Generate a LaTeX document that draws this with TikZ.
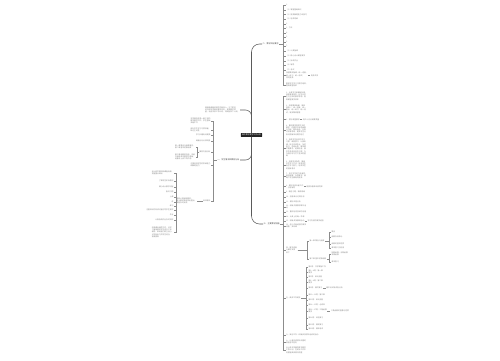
\documentclass[tikz,border=0pt]{standalone}
\usepackage{fontspec}
\newfontfamily\cjk{Noto Sans CJK SC}
\usetikzlibrary{positioning}
\definecolor{mapdark}{RGB}{35,35,35}
\definecolor{mapline}{RGB}{90,90,90}
\definecolor{maptwig}{RGB}{140,140,140}
\definecolor{maptext}{RGB}{130,130,130}
\tikzset{
  root/.style={rectangle, fill=mapdark, text=white, font=\cjk\fontsize{1.9}{2.3}\selectfont,
    inner xsep=1.2pt, inner ysep=0.9pt, rounded corners=0.4pt},
  branch/.style={font=\cjk\fontsize{2}{2.5}\selectfont, text=black!75, inner sep=0.4pt, align=left},
  rleaf/.style={font=\cjk\fontsize{1.8}{2.3}\selectfont, text=maptext, inner sep=0.4pt,
    anchor=west, align=left},
  lleaf/.style={font=\cjk\fontsize{1.8}{2.3}\selectfont, text=maptext, inner sep=0.4pt,
    anchor=east, align=left},
  trunk/.style={draw=mapline, line width=0.55pt},
  twig/.style={draw=maptwig, line width=0.3pt}
}
\begin{document}
\begin{tikzpicture}[x=1pt, y=-1pt]
  \useasboundingbox (0,0) rectangle (500,360);
  % centre and main branches
  \node[root] (root) at (251.5,135) {高中数学教学工作计划};
  \node[branch, anchor=west] (top) at (262,44) {二、教学目标要求};
  \node[branch, anchor=west] (low) at (263,224) {三、主要教学措施};
  \node[lleaf] (l1) at (240,110) {随着新课程改革的不断深入，为了更好\\地完成本学期的教学任务，提高教学质\\量，结合学校工作计划，特制定如下计划。};
  \node[branch, anchor=east] (l2) at (240,160) {一、学生情况和教材分析};
  \draw[trunk, rounded corners=8pt] (root.north) |- (top.west);
  \draw[trunk, rounded corners=8pt] (root.south) |- (low.west);
  \draw[trunk, rounded corners=6pt] (root.north) |- (l1.east);
  \draw[trunk, rounded corners=6pt] (root.south) |- (l2.east);

  % left: students and textbook
  \coordinate (lb) at (213,160);
  \node[lleaf] (a1) at (211,121) {本学期担任高一两个班的\\数学教学工作，学生基础\\参差不齐};
  \node[lleaf] (a2) at (211,130) {部分学生学习习惯较差，\\缺乏主动性};
  \node[lleaf] (a3) at (211,135) {学习兴趣有待提高};
  \node[lleaf] (a4) at (211,141) {两极分化比较明显};
  \node[lleaf] (a5) at (211,152) {教材内容分析};
  \node[lleaf] (a6) at (211,165) {注重培养学生的思维能力\\和解题能力};
  \node[lleaf] (a7) at (211,201) {具体做法};
  \foreach \i in {1,...,7} \draw[twig] (l2.west) -- (lb) |- (a\i.east);
  \coordinate (eb) at (197.5,152);
  \node[lleaf] (e1) at (195.5,147) {第一章集合与函数概念，\\第二章基本初等函数};
  \node[lleaf] (e2) at (195.5,157) {第三章函数的应用，本册\\内容是高中数学的基础，\\起着承上启下的作用};
  \foreach \i in {1,2} \draw[twig] (a5.west) -- (eb) |- (e\i.east);
  \node[lleaf] (h) at (197,201) {课前认真钻研教材，\\课上精讲多练突出重点，\\课后及时反馈};
  \draw[twig] (a7.west) -- (h.east);
  \coordinate (hb) at (176,201);
  \node[lleaf] (h1) at (174,173) {深入研究教材和课程标准，\\把握重点难点};
  \node[lleaf] (h2) at (174,181) {了解学生实际情况};
  \node[lleaf] (h3) at (174,187) {精心设计教学过程};
  \node[lleaf] (h4) at (174,192) {备好习题};
  \node[lleaf] (h5) at (174,197) {上课};
  \node[lleaf] (h6) at (174,202) {讲};
  \node[lleaf] (h7) at (174,206) {练习};
  \node[lleaf] (h8) at (174,210) {注重知识的形成过程引导学生探究};
  \node[lleaf] (h9) at (174,215) {作业};
  \node[lleaf] (h10) at (174,220) {认真批改作业及时讲评};
  \node[lleaf] (h11) at (174,232) {加强课后辅导工作，对学\\习有困难的学生进行个别\\辅导，帮助他们树立信心，\\对学有余力的学生适当\\拓展提高};
  \foreach \i in {1,...,11} \draw[twig] (h.west) -- (hb) |- (h\i.east);

  % right top: aims
  \coordinate (tb) at (283,44);
  \node[rleaf] (t1) at (285.5,5) {1．};
  \node[rleaf] (t2) at (285.5,10) {（1）掌握基础知识};
  \node[rleaf] (t3) at (285.5,14.5) {（2）提高解题能力和技巧};
  \node[rleaf] (t4) at (285.5,19) {（3）培养思维};
  \node[rleaf] (t5) at (285.5,24) {2．};
  \node[rleaf] (t6) at (285.5,28) {3．方法};
  \node[rleaf] (t7) at (285.5,33) {4．};
  \node[rleaf] (t8) at (285.5,37) {5．};
  \node[rleaf] (t9) at (285.5,42) {6．};
  \node[rleaf] (t10) at (285.5,46) {7．};
  \node[rleaf] (t11) at (285.5,51) {（1）认真备课};
  \node[rleaf] (t12) at (285.5,56) {（2）精心设计课堂教学};
  \node[rleaf] (t13) at (285.5,61) {（3）批改作业};
  \node[rleaf] (t14) at (285.5,65) {（4）辅导};
  \node[rleaf] (t15) at (285.5,70) {（5）考试};
  \node[rleaf] (t16) at (285.5,75.5) {加强集体备课，统一进度，\\统一练习，统一测试，\\共同提高};
  \node[rleaf] (t17) at (285.5,85) {重视学生学习习惯的培养，\\提高课堂效率};
  \foreach \i in {1,...,17} \draw[twig] (top.east) -- (tb) |- (t\i.west);
  \node[rleaf, right=2pt of t16] (t16a) {资源共享};
  \draw[twig] (t16) -- (t16a);

  % right bottom: measures
  \coordinate (ub) at (283,224);
  \node[rleaf] (u1) at (285.5,96) {1．认真学习新课程标准，\\转变教育观念，树立以学\\生为主体的教学思想，提\\高课堂教学效率};
  \node[rleaf] (u2) at (285.5,109) {2．加强集体备课，做到\\四统一：统一进度、统一\\重点、统一练习、统一测\\试，发挥集体智慧};
  \node[rleaf] (u3) at (285.5,119.5) {3．抓好课堂教学};
  \node[rleaf] (u4) at (285.5,130) {4．重视数学思想方法的\\教学，在教学中渗透函数\\与方程、数形结合、分类\\讨论等思想，提高学生分\\析问题解决问题的能力};
  \node[rleaf] (u5) at (285.5,148) {5．培养学生良好的学习\\习惯：课前预习、认真听\\课、独立完成作业、及时\\复习、总结反思。教师要\\严格要求，经常检查，使\\学生养成良好的习惯，为\\今后的学习打下坚实的基\\础};
  \node[rleaf] (u6) at (285.5,165) {6．加强学法指导，教给\\学生学习方法，提高学生\\自主学习能力，培养学生\\的创新意识};
  \node[rleaf] (u7) at (285.5,176) {7．关注学生的个体差异，\\因材施教，分层教学，使\\每个学生都有所提高};
  \node[rleaf] (u8) at (285.5,186.5) {8．做好培优补差工作\\，分层辅导};
  \node[rleaf] (u9) at (285.5,192) {9．精选习题，精讲精练};
  \node[rleaf] (u10) at (285.5,197) {10．加强单元过关检测};
  \node[rleaf] (u11) at (285.5,202) {11．做好试卷分析};
  \node[rleaf] (u12) at (285.5,207) {12．积极开展数学课外活\\动};
  \node[rleaf] (u13) at (285.5,212) {13．重视信息技术的应用};
  \node[rleaf] (u14) at (285.5,216.5) {14．认真上好每一节课};
  \node[rleaf] (u15) at (285.5,221) {15．积极参加教研活动};
  \node[rleaf] (u16) at (285.5,226) {16．虚心向有经验的教师\\请教，多听课};
  \node[rleaf] (u17) at (285.5,250) {四、教学进度\\与课时安排\\如下};
  \node[rleaf] (u18) at (285.5,298) {五、具体工作安排};
  \node[rleaf] (u19) at (285.5,335) {六、其他工作：积极参加学校组织的活动};
  \node[rleaf] (u20) at (285.5,342) {七、认真完成学校布置的\\其他各项任务};
  \node[rleaf] (u21) at (285.5,350) {以上是本学期的数学教学\\工作计划，在实际工作中\\将根据具体情况调整};
  \foreach \i in {1,...,21} \draw[twig] (low.east) -- (ub) |- (u\i.west);
  \node[rleaf, right=2pt of u3] (u3a) {向四十五分钟要质量};
  \node[rleaf, right=2pt of u8] (u8a) {提高及格率和优秀率};
  \node[rleaf, right=2pt of u15] (u15a) {学习先进的教学经验};
  \draw[twig] (u3) -- (u3a);
  \draw[twig] (u8) -- (u8a);
  \draw[twig] (u15) -- (u15a);

  % schedule
  \coordinate (vb) at (307,250);
  \node[rleaf] (v1) at (309,241) {第一章 集合与函数};
  \node[rleaf] (v2) at (309,259) {第二章 基本初等函数};
  \foreach \i in {1,2} \draw[twig] (u17.east) -- (vb) |- (v\i.west);
  \coordinate (w1b) at (329,241);
  \coordinate (w2b) at (329,259);
  \node[rleaf] (w1) at (331,232) {集合};
  \node[rleaf] (w2) at (331,237) {函数及其表示};
  \node[rleaf] (w3) at (331,244) {函数的基本性质};
  \node[rleaf] (w4) at (331,248) {章末复习与检测};
  \node[rleaf] (w5) at (331,254) {指数函数、对数函数\\及幂函数};
  \node[rleaf] (w6) at (331,262) {章末复习};
  \foreach \i in {1,...,4} \draw[twig] (v1.east) -- (w1b) |- (w\i.west);
  \foreach \i in {5,6} \draw[twig] (v2.east) -- (w2b) |- (w\i.west);

  % weekly plan
  \coordinate (xb) at (306,298);
  \node[rleaf] (x1) at (308,267) {第1周：开学准备工作};
  \node[rleaf] (x2) at (308,272) {第2—4周：第一章\\教学};
  \node[rleaf] (x3) at (308,277) {第5周：单元测验};
  \node[rleaf] (x4) at (308,282) {第6—8周：第二章\\教学};
  \node[rleaf] (x5) at (308,288) {第9周：期中复习};
  \node[rleaf] (x6) at (308,295) {第10—12周：第三章};
  \node[rleaf] (x7) at (308,300) {第13周：单元测验};
  \node[rleaf] (x8) at (308,305) {第14—15周：必修四};
  \node[rleaf] (x9) at (308,311) {第16—17周：三角函数\\教学};
  \node[rleaf] (x10) at (308,318) {第18周：综合复习};
  \node[rleaf] (x11) at (308,325) {第19周：期末复习};
  \node[rleaf] (x12) at (308,329) {第20周：期末考试};
  \foreach \i in {1,...,12} \draw[twig] (u18.east) -- (xb) |- (x\i.west);
  \node[rleaf, right=3pt of x5] (x5a) {期中考试及试卷分析};
  \node[rleaf, right=3pt of x9] (x9a) {三角函数的图像与性质};
  \draw[twig] (x5) -- (x5a);
  \draw[twig] (x9) -- (x9a);
\end{tikzpicture}
\end{document}
